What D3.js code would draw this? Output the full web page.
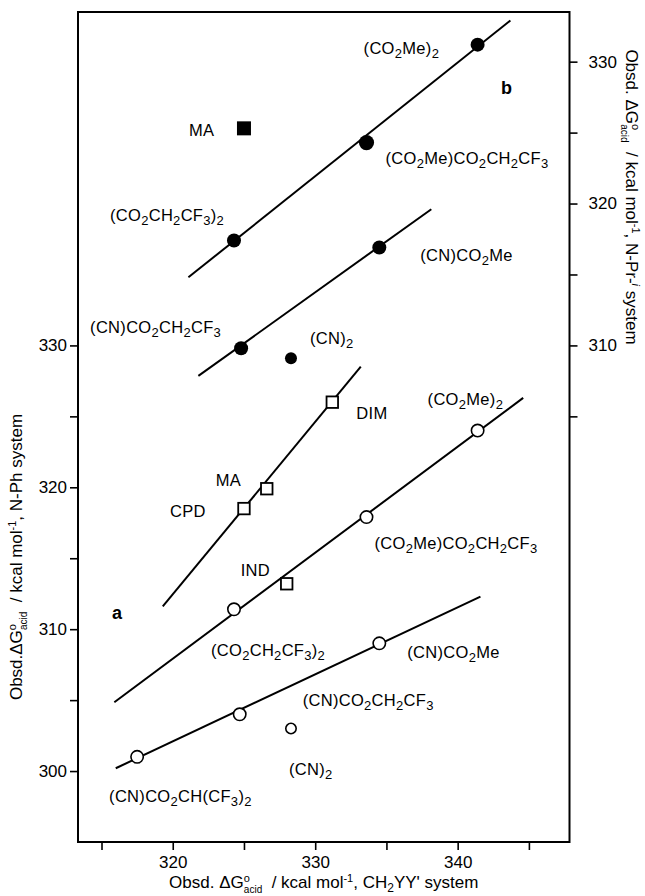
<!DOCTYPE html>
<html>
<head>
<meta charset="utf-8">
<script src="https://cdn.jsdelivr.net/npm/d3@7"></script>
<style>
  body { margin: 0; background: #fff; }
  text { font-family: "Liberation Sans", Arial, Helvetica, sans-serif; fill: #000; }
</style>
</head>
<body>
<svg id="chart" width="645" height="896"></svg>
<script>
// ---- tick values ----
const xMajorTicks = [320, 330, 340];
const xMinorTicks = [315, 325, 335, 345];
const leftMajorTicks = [300, 310, 320, 330];
const leftMinorTicks = [305, 315, 325];
const rightMajorTicks = [310, 320, 330];
const rightMinorTicks = [305, 315, 325];

// ---- set a: N-Ph system (left axis), open circles ----
const aLabels = ["(CN)CO_2CH(CF_3)_2", "(CN)CO_2CH_2CF_3", "(CN)_2", "(CN)CO_2Me",
                 "(CO_2CH_2CF_3)_2", "(CO_2Me)CO_2CH_2CF_3", "(CO_2Me)_2"];
const aX = [317.5, 324.7, 328.3, 334.5, 324.3, 333.6, 341.4];
const aY = [301.0, 304.0, 303.0, 309.0, 311.4, 317.9, 324.0];

// ---- set a: open squares ----
const sqLabels = ["DIM", "MA", "CPD", "IND"];
const sqX = [331.2, 326.6, 325.0, 328.0];
const sqY = [326.0, 319.9, 318.5, 313.2];

// ---- set b: N-Pr-i system (right axis), filled circles ----
const bLabels = ["(CO_2Me)_2", "(CO_2Me)CO_2CH_2CF_3", "(CO_2CH_2CF_3)_2", "(CN)CO_2Me",
                 "(CN)CO_2CH_2CF_3", "(CN)_2"];
const bX = [341.4, 333.6, 324.3, 334.5, 324.8, 328.3];
const bY = [331.2, 324.3, 317.4, 316.9, 309.8, 309.1];

// ---- set b: filled square ----
const bSqLabels = ["MA"];
const bSqX = [325.0];
const bSqY = [325.3];

// ---- correlation lines (end points) ----
const lineCnAX = [316.0, 341.6],  lineCnAY = [300.2, 312.3];   // a, (CN) esters
const lineEsAX = [315.9, 344.6],  lineEsAY = [304.85, 326.3];  // a, diesters
const lineSqX  = [319.3, 333.2],  lineSqY  = [311.6, 328.5];   // squares
const lineEsBX = [321.1, 343.7],  lineEsBY = [314.8, 332.9];   // b, diesters
const lineCnBX = [321.8, 338.15], lineCnBY = [307.85, 319.6];  // b, (CN) esters

// ---- layout ----
const frame = { left: 78, right: 569.5, top: 12, bottom: 842 };
const aRadius = [7, 7, 6, 7, 7, 7, 7];
const bRadius = [7, 7.6, 7, 7, 7, 6];
// label offsets from the marker centre: [dx to text start, dy to baseline]
const aLabelOff = [[-28, 45], [63, -8], [-2, 47], [28, 15], [-23, 47], [8, 32], [-50, -26]];
const sqLabelOff = [[24, 17], [-51, -3], [-74, 8], [-46, -8]];
const bLabelOff = [[-114, 9], [19, 21], [-124, -19], [41, 13], [-151, -15], [19, -14]];
const bSqLabelOff = [[-55, 8]];

const svg = d3.select("#chart");

const x = d3.scaleLinear().domain([313.35, 347.85]).range([frame.left, frame.right]);
const yL = d3.scaleLinear().domain([295, 353.5]).range([frame.bottom, frame.top]);
const yR = d3.scaleLinear().domain([275, 333.5]).range([frame.bottom, frame.top]);

// chemical formula text: "_n" marks a subscript digit
function chem(sel, str, base, sub) {
  const parts = str.split(/(_\d)/).filter(s => s.length);
  let lowered = false;
  parts.forEach(p => {
    if (p[0] === "_") {
      sel.append("tspan").attr("font-size", sub).attr("dy", lowered ? 0 : 4).text(p.slice(1));
      lowered = true;
    } else {
      sel.append("tspan").attr("font-size", base).attr("dy", lowered ? -4 : 0).text(p);
      lowered = false;
    }
  });
}

// ---- axes ----
function styleAxis(g) {
  g.select(".domain").remove();
  g.selectAll(".tick line").attr("stroke", "#000").attr("stroke-width", 1.6);
  g.selectAll(".tick text").attr("font-size", 17).attr("fill", "#000")
    .attr("font-family", '"Liberation Sans", Arial, Helvetica, sans-serif');
}

svg.append("g").attr("transform", `translate(0,${frame.bottom})`)
  .call(d3.axisBottom(x).tickValues(xMajorTicks).tickSize(8).tickPadding(6).tickFormat(d3.format("d")))
  .call(styleAxis);
svg.append("g").attr("transform", `translate(0,${frame.bottom})`)
  .call(d3.axisBottom(x).tickValues(xMinorTicks).tickSize(8).tickFormat(""))
  .call(styleAxis);

svg.append("g").attr("transform", `translate(${frame.left},0)`)
  .call(d3.axisLeft(yL).tickValues(leftMajorTicks).tickSize(8).tickPadding(3).tickFormat(d3.format("d")))
  .call(styleAxis);
svg.append("g").attr("transform", `translate(${frame.left},0)`)
  .call(d3.axisLeft(yL).tickValues(leftMinorTicks).tickSize(8).tickFormat(""))
  .call(styleAxis);

svg.append("g").attr("transform", `translate(${frame.right},0)`)
  .call(d3.axisRight(yR).tickValues(rightMajorTicks).tickSize(8).tickPadding(11).tickFormat(d3.format("d")))
  .call(styleAxis);
svg.append("g").attr("transform", `translate(${frame.right},0)`)
  .call(d3.axisRight(yR).tickValues(rightMinorTicks).tickSize(8).tickFormat(""))
  .call(styleAxis);

// frame
svg.append("rect")
  .attr("x", frame.left).attr("y", frame.top)
  .attr("width", frame.right - frame.left).attr("height", frame.bottom - frame.top)
  .attr("fill", "none").attr("stroke", "#000").attr("stroke-width", 2);

// ---- correlation lines ----
const lines = [
  { xs: lineCnAX, ys: lineCnAY, y: yL },
  { xs: lineEsAX, ys: lineEsAY, y: yL },
  { xs: lineSqX,  ys: lineSqY,  y: yL },
  { xs: lineEsBX, ys: lineEsBY, y: yR },
  { xs: lineCnBX, ys: lineCnBY, y: yR }
];
svg.append("g").selectAll("line").data(lines).join("line")
  .attr("x1", d => x(d.xs[0])).attr("y1", d => d.y(d.ys[0]))
  .attr("x2", d => x(d.xs[1])).attr("y2", d => d.y(d.ys[1]))
  .attr("stroke", "#000").attr("stroke-width", 2);

// ---- markers ----
const aPts = aX.map((v, i) => ({ x: v, y: aY[i], r: aRadius[i], label: aLabels[i], off: aLabelOff[i] }));
const bPts = bX.map((v, i) => ({ x: v, y: bY[i], r: bRadius[i], label: bLabels[i], off: bLabelOff[i] }));
const sqPts = sqX.map((v, i) => ({ x: v, y: sqY[i], label: sqLabels[i], off: sqLabelOff[i] }));
const bSqPts = bSqX.map((v, i) => ({ x: v, y: bSqY[i], label: bSqLabels[i], off: bSqLabelOff[i] }));

svg.append("g").selectAll("circle").data(aPts).join("circle")
  .attr("cx", d => x(d.x)).attr("cy", d => yL(d.y)).attr("r", d => d.r - 0.8)
  .attr("fill", "#fff").attr("stroke", "#000").attr("stroke-width", 1.6);

svg.append("g").selectAll("circle").data(bPts).join("circle")
  .attr("cx", d => x(d.x)).attr("cy", d => yR(d.y)).attr("r", d => d.r)
  .attr("fill", "#000");

const sqSide = 11.5;
svg.append("g").selectAll("rect").data(sqPts).join("rect")
  .attr("x", d => x(d.x) - sqSide / 2).attr("y", d => yL(d.y) - sqSide / 2)
  .attr("width", sqSide).attr("height", sqSide)
  .attr("fill", "#fff").attr("stroke", "#000").attr("stroke-width", 1.8);

const bSqSide = 14;
svg.append("g").selectAll("rect").data(bSqPts).join("rect")
  .attr("x", d => x(d.x) - bSqSide / 2).attr("y", d => yR(d.y) - bSqSide / 2)
  .attr("width", bSqSide).attr("height", bSqSide).attr("fill", "#000");

// ---- point labels ----
function labelSet(pts, yScale) {
  pts.forEach(d => {
    const t = svg.append("text")
      .attr("x", x(d.x) + d.off[0]).attr("y", yScale(d.y) + d.off[1])
      .attr("letter-spacing", 0.3);
    chem(t, d.label, 16.5, 13);
  });
}
labelSet(aPts, yL);
labelSet(sqPts, yL);
labelSet(bPts, yR);
labelSet(bSqPts, yR);

// panel letters
svg.append("text").attr("x", 501).attr("y", 94).attr("font-size", 18).attr("font-weight", "bold").text("b");
svg.append("text").attr("x", 112).attr("y", 619).attr("font-size", 18).attr("font-weight", "bold").text("a");

// ---- axis titles ----
function dgTitle(t, gap, tail) {
  t.append("tspan").text(gap ? "Obsd. \u0394G" : "Obsd.\u0394G");
  t.append("tspan").attr("font-size", 11).attr("dy", -6).text("o");
  t.append("tspan").attr("font-size", 10).attr("dx", -6).attr("dy", 11).text("acid");
  t.append("tspan").attr("dy", -5).text("\u00a0 / kcal mol");
  t.append("tspan").attr("font-size", 11).attr("dy", -6).text("-1");
  t.append("tspan").attr("dy", 6).text(",\u00a0");
  tail(t);
}

const bottomTitle = svg.append("text")
  .attr("x", (frame.left + frame.right) / 2).attr("y", 888)
  .attr("text-anchor", "middle").attr("font-size", 17);
dgTitle(bottomTitle, true, t => {
  t.append("tspan").text("CH");
  t.append("tspan").attr("font-size", 12).attr("dy", 4).text("2");
  t.append("tspan").attr("dy", -4).text("YY' system");
});

const leftTitle = svg.append("text")
  .attr("transform", "translate(22,557) rotate(-90)")
  .attr("text-anchor", "middle").attr("font-size", 17);
dgTitle(leftTitle, false, t => {
  t.append("tspan").text("N-Ph system");
});

const rightTitle = svg.append("text")
  .attr("transform", "translate(626,197) rotate(90)")
  .attr("text-anchor", "middle").attr("font-size", 17);
dgTitle(rightTitle, true, t => {
  t.append("tspan").text("N-Pr-");
  t.append("tspan").attr("font-style", "italic").attr("font-size", 11).attr("dy", -6).text("i");
  t.append("tspan").attr("dy", 6).text(" system");
});
</script>
</body>
</html>
